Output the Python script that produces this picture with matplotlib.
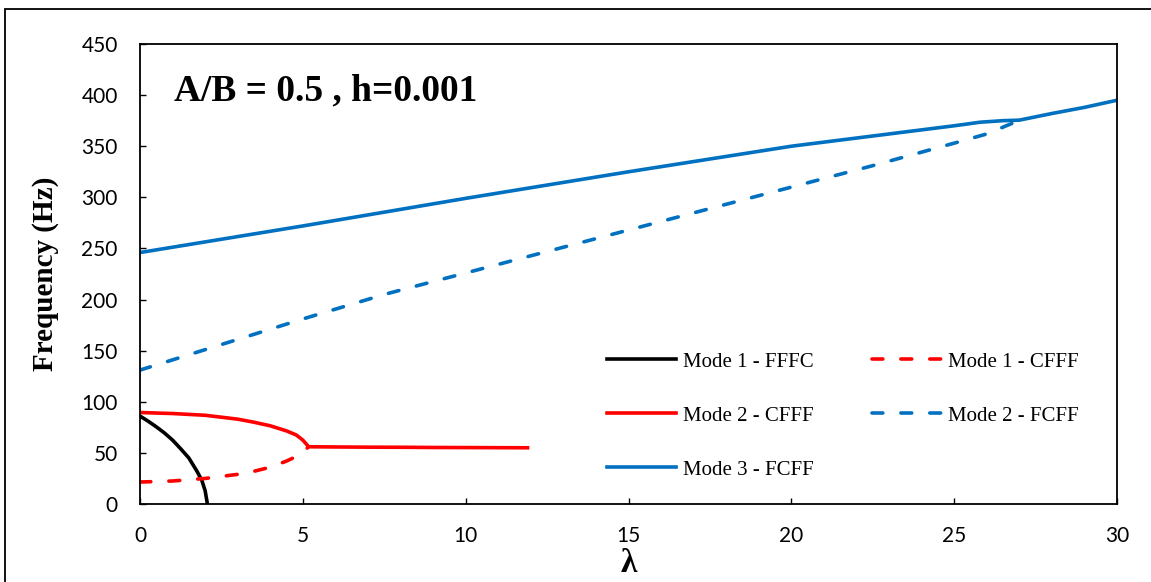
import matplotlib
matplotlib.use("Agg")
import matplotlib.pyplot as plt
from matplotlib.patches import Rectangle

# Mode 1 - FFFC (black solid)
lam_m1_fffc = [0, 0.25, 0.5, 0.75, 1.0, 1.25, 1.5, 1.75, 1.9, 2.0, 2.07]
f_m1_fffc = [86, 81, 75.5, 69.5, 62.5, 54, 45, 32, 23, 13, 0]

# Mode 2 - CFFF (red solid)
lam_m2_cfff = [0, 1, 2, 3, 3.5, 4, 4.5, 4.8, 5.0, 5.18, 6, 7, 8, 9, 10, 11, 11.9]
f_m2_cfff = [89.5, 88.5, 86.8, 83, 80, 76.5, 71.5, 67.5, 62.5, 56, 55.8, 55.6, 55.5, 55.3, 55.2, 55.1, 55]

# Mode 1 - CFFF (red dashed)
lam_m1_cfff = [0, 1, 2, 3, 3.5, 4, 4.5, 4.8, 5.0, 5.18]
f_m1_cfff = [21.5, 22.5, 25, 29, 32, 36, 42, 46.5, 51, 56]

# Mode 3 - FCFF (blue solid)
lam_m3_fcff = [0, 5, 10, 15, 20, 22.5, 25, 25.8, 26.5, 27, 28, 29, 30]
f_m3_fcff = [246, 272, 299, 325, 350, 360, 370, 373.5, 375, 375.5, 382, 388, 395]

# Mode 2 - FCFF (blue dashed)
lam_m2_fcff = [0, 2.5, 5, 7.5, 10, 12.5, 15, 17.5, 20, 22.5, 25, 26, 26.9, 27]
f_m2_fcff = [131, 156, 181, 205, 226, 247, 268, 289, 310, 331, 353, 362, 374, 375.5]

x_ticks = [0, 5, 10, 15, 20, 25, 30]
y_ticks = [0, 50, 100, 150, 200, 250, 300, 350, 400, 450]

BLUE = "#0070C0"
RED = "#FF0000"
LW = 2.6

fig = plt.figure(figsize=(11.51, 5.82), dpi=100)
ax = fig.add_axes([140 / 1151, 1 - 504 / 582, 977 / 1151, 460 / 582])

ax.plot(lam_m1_fffc, f_m1_fffc, color="black", lw=LW, label="Mode 1 - FFFC")
ax.plot(lam_m2_cfff, f_m2_cfff, color=RED, lw=LW, label="Mode 2 - CFFF")
ax.plot(lam_m3_fcff, f_m3_fcff, color=BLUE, lw=LW, label="Mode 3 - FCFF")
ax.plot(lam_m1_cfff, f_m1_cfff, color=RED, lw=LW, dashes=(3, 5),
        dash_capstyle="round", label="Mode 1 - CFFF")
ax.plot(lam_m2_fcff, f_m2_fcff, color=BLUE, lw=LW, dashes=(3, 5),
        dash_capstyle="round", label="Mode 2 - FCFF")

ax.set_xlim(0, 30)
ax.set_ylim(0, 450)
ax.set_xticks(x_ticks)
ax.set_yticks(y_ticks)
ax.tick_params(direction="in", length=4.5, width=1, pad=16, labelsize=15)
for lbl in ax.get_xticklabels() + ax.get_yticklabels():
    lbl.set_family("Lato")
for sp in ax.spines.values():
    sp.set_linewidth(1.3)

ax.set_ylabel("Frequency (Hz)", family="Liberation Serif", fontweight="bold",
              fontsize=21, labelpad=16)
ax.set_xlabel("λ", family="Liberation Serif", fontweight="bold", fontsize=24)
ax.xaxis.set_label_coords(0.5, -0.096)

ax.text(1.05, 404, "A/B = 0.5 , h=0.001", family="Liberation Serif",
        fontweight="bold", fontsize=27, va="center", ha="left")

ax.legend(loc="upper left", bbox_to_anchor=(0.478, 0.33), ncol=2,
          frameon=False, prop={"family": "Liberation Serif", "size": 15},
          handlelength=3.3, handletextpad=0.35, labelspacing=1.65,
          columnspacing=2.8, borderpad=0, borderaxespad=0)

# outer frame (top/left visible, rest runs off the image)
fig.patches.append(Rectangle((5 / 1151, -0.1), 1.2, 1.1 - 9 / 582,
                             transform=fig.transFigure, fill=False,
                             edgecolor="black", lw=1.3))

fig.savefig("out.png", dpi=100)
